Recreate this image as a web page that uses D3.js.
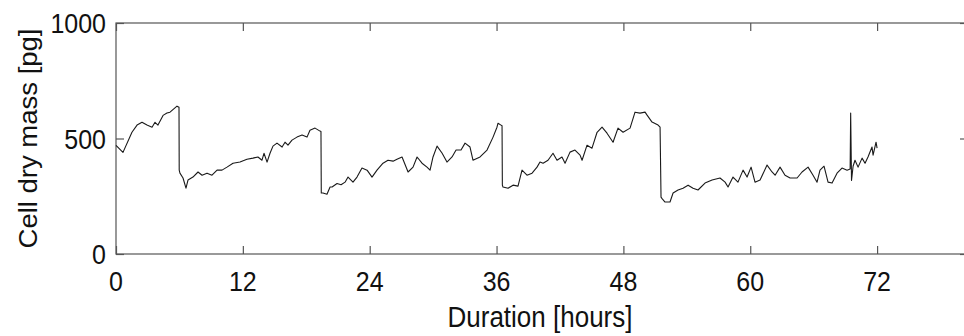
<!DOCTYPE html>
<html>
<head>
<meta charset="utf-8">
<script src="https://cdn.jsdelivr.net/npm/d3@7"></script>
<style>
  html, body { margin: 0; padding: 0; background: #fff; }
  svg { display: block; }
  text { font-family: "Liberation Sans", Arial, sans-serif; fill: #111; }
</style>
</head>
<body>
<div id="chart"></div>
<script>
var width = 964, height = 336;

// time since start of recording (hours)
var hours = [
  0.00, 0.66, 1.51, 1.99, 2.46, 2.93, 3.41, 3.69, 3.97, 4.45, 4.82, 5.11, 5.77, 5.96,
  5.98, 6.05, 6.34, 6.62, 6.81, 7.28, 7.76, 8.14, 8.61, 9.08, 9.56, 10.03, 10.50, 11.07,
  11.73, 12.39, 12.96, 13.43, 13.81, 14.00, 14.29, 14.57, 14.85, 15.23, 15.71, 15.99,
  16.27, 16.65, 17.12, 17.60, 18.07, 18.35, 18.83, 19.30, 19.39,
  19.42, 19.58, 19.96, 20.25, 20.44, 20.91, 21.29, 21.67, 21.95, 22.42, 22.80, 23.27,
  23.75, 24.22, 24.69, 25.26, 25.73, 26.21, 26.58, 27.06, 27.63, 28.10, 28.48, 28.95,
  29.42, 29.71, 29.99, 30.37, 30.84, 31.31, 31.79, 32.17, 32.64, 33.02, 33.49, 33.77,
  34.44, 35.10, 35.67, 36.04, 36.14, 36.42, 36.52,
  36.55, 36.61, 37.09, 37.56, 38.03, 38.41, 38.88, 39.36, 39.83, 40.11, 40.40, 40.87,
  41.34, 41.72, 42.19, 42.48, 42.95, 43.42, 43.90, 44.09, 44.56, 45.03, 45.51, 45.98,
  46.45, 47.02, 47.49, 47.97, 48.63, 49.10, 49.57, 50.05, 50.24, 50.71, 51.28, 51.47,
  51.56, 51.66, 51.94, 52.41, 52.70, 53.17, 53.64, 54.12, 54.59, 55.06, 55.72, 56.39,
  57.14, 57.62, 57.90, 58.37, 58.84, 59.32, 59.70, 60.08, 60.45, 60.93, 61.59, 62.06,
  62.35, 62.82, 63.29, 63.77, 64.43, 64.90, 65.47, 65.94, 66.32, 66.60, 66.98, 67.36,
  67.74, 68.21, 68.68, 69.16, 69.45, 69.50, 69.58, 69.73, 69.91, 70.20, 70.58, 70.86,
  71.14, 71.52, 71.62, 71.90, 72.00
];

// cell dry mass (pg)
var mass = [
  470, 440, 527, 558, 570, 558, 549, 570, 558, 600, 610, 614, 640, 635,
  363, 350, 329, 285, 320, 333, 355, 341, 350, 341, 363, 363, 376, 393,
  398, 410, 415, 420, 406, 436, 398, 436, 467, 480, 463, 484,
  471, 493, 506, 515, 506, 536, 545, 532, 530,
  264, 264, 259, 290, 290, 305, 300, 311, 333, 311, 333, 372,
  363, 333, 363, 393, 406, 402, 410, 420, 355, 376, 420, 393,
  376, 363, 420, 467, 437, 398, 420, 450, 450, 480, 463, 406,
  420, 450, 506, 549, 566, 558, 555,
  298, 290, 285, 298, 294, 363, 341, 350, 376, 398, 393, 406,
  436, 406, 420, 393, 441, 450, 428, 406, 471, 458, 527, 549,
  523, 484, 545, 527, 545, 614, 610, 614, 601, 571, 558, 549,
  246, 240, 225, 225, 264, 277, 285, 298, 285, 277, 307, 320,
  329, 311, 290, 333, 311, 363, 333, 376, 311, 320, 385, 355,
  341, 376, 341, 329, 329, 355, 376, 341, 311, 363, 380, 311,
  307, 350, 372, 363, 368, 610, 318, 380, 406, 376, 415, 393,
  420, 463, 428, 484, 458
];

var xTicks = [0, 12, 24, 36, 48, 60, 72];
var yTicks = [0, 500, 1000];
var xTitle = "Duration [hours]";
var yTitle = "Cell dry mass [pg]";

var margin = {left: 116, top: 23, right: -4, bottom: 82};
var axisColor = "#555";
var fontSize = 25, stretch = 1.1;

var svg = d3.select("#chart")
  .append("svg")
  .attr("width", width)
  .attr("height", height);

var x = d3.scaleLinear()
  .domain([0, 80.6])
  .range([margin.left, width - margin.right]);

var y = d3.scaleLinear()
  .domain([0, 1000])
  .range([height - margin.bottom, margin.top]);

// frame
svg.append("rect")
  .attr("x", x(0))
  .attr("y", y(1000))
  .attr("width", x.range()[1] - x(0))
  .attr("height", y(0) - y(1000))
  .attr("fill", "none")
  .attr("stroke", axisColor)
  .attr("stroke-width", 1.2);

// inward ticks on all four sides
function styleAxis(g) {
  g.select(".domain").remove();
  g.selectAll(".tick line").attr("stroke", axisColor).attr("stroke-width", 1.2);
  g.selectAll(".tick text").remove();
}

svg.append("g")
  .attr("transform", "translate(0," + y(0) + ")")
  .call(d3.axisBottom(x).tickValues(xTicks).tickSize(-8))
  .call(styleAxis);

svg.append("g")
  .attr("transform", "translate(0," + y(1000) + ")")
  .call(d3.axisTop(x).tickValues(xTicks).tickSize(-8))
  .call(styleAxis);

svg.append("g")
  .attr("transform", "translate(" + x(0) + ",0)")
  .call(d3.axisLeft(y).tickValues(yTicks).tickSize(-8))
  .call(styleAxis);

svg.append("g")
  .attr("transform", "translate(" + x.range()[1] + ",0)")
  .call(d3.axisRight(y).tickValues(yTicks).tickSize(-8))
  .call(styleAxis);

// tick labels (slightly stretched vertically like the original figure)
svg.append("g").selectAll("text")
  .data(xTicks)
  .enter().append("text")
  .attr("transform", function(d) { return "translate(" + x(d) + "," + (y(0) + 37) + ") scale(1," + stretch + ")"; })
  .attr("text-anchor", "middle")
  .style("font-size", fontSize + "px")
  .text(function(d) { return d; });

svg.append("g").selectAll("text")
  .data(yTicks)
  .enter().append("text")
  .attr("transform", function(d) { return "translate(" + (x(0) - 10) + "," + (y(d) + 10) + ") scale(1," + stretch + ")"; })
  .attr("text-anchor", "end")
  .style("font-size", fontSize + "px")
  .text(function(d) { return d; });

// axis titles
svg.append("text")
  .attr("transform", "translate(" + ((x(0) + x.range()[1]) / 2 - 2) + "," + (height - 9) + ") scale(1," + stretch + ")")
  .attr("text-anchor", "middle")
  .style("font-size", "26px")
  .text(xTitle);

svg.append("text")
  .attr("transform", "translate(37," + ((y(0) + y(1000)) / 2) + ") rotate(-90) scale(" + stretch + ",1)")
  .attr("text-anchor", "middle")
  .style("font-size", fontSize + "px")
  .text(yTitle);

// the mass trace
var line = d3.line()
  .x(function(d, i) { return x(hours[i]); })
  .y(function(d) { return y(d); });

svg.append("path")
  .datum(mass)
  .attr("fill", "none")
  .attr("stroke", "#1a1a1a")
  .attr("stroke-width", 1.1)
  .attr("stroke-linejoin", "round")
  .attr("d", line);
</script>
</body>
</html>
